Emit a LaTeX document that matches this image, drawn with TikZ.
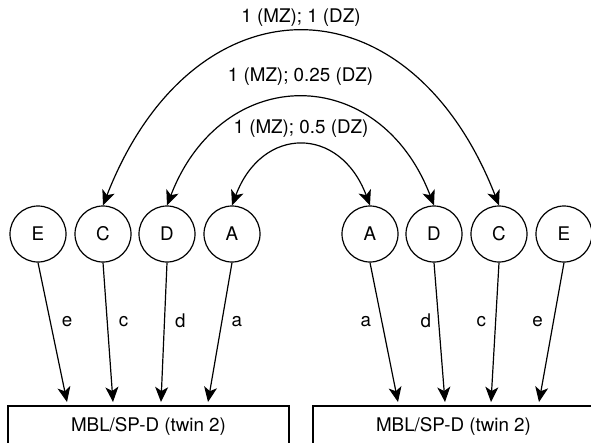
\documentclass[tikz,border=0pt]{standalone}
\usepackage{fontspec}
\setmainfont{TeX Gyre Heros}
\usetikzlibrary{arrows.meta}
\begin{document}
\begin{tikzpicture}[x=1pt,y=-1pt,
  every node/.style={font=\fontsize{18.8}{22}\selectfont},
  unit/.style={draw,circle,minimum size=56pt,inner sep=0pt,line width=1.2pt},
  twinbox/.style={draw,rectangle,minimum width=281pt,minimum height=40pt,inner sep=0pt,line width=1.2pt},
  tipA/.tip={Stealth[length=15pt,width=13pt,inset=4pt]},
  arr/.style={-tipA,line width=1.2pt},
  arrb/.style={tipA-tipA,line width=1.2pt},
  lbl/.style={inner sep=0pt}
]
\useasboundingbox (0,0) rectangle (591,442);
\clip (0,0) rectangle (591,442);
% circles
\node[unit] (lE) at (38,234) {E};
\node[unit] (lC) at (103,234) {C};
\node[unit] (lD) at (167,234) {D};
\node[unit] (lA) at (232,234) {A};
\node[unit] (rA) at (370,234) {A};
\node[unit] (rD) at (434,234) {D};
\node[unit] (rC) at (499,234) {C};
\node[unit] (rE) at (564,234) {E};
% boxes
\node[twinbox] (lbox) at (148.5,426) {MBL/SP-D (twin 2)};
\node[twinbox] (rbox) at (453.5,426) {MBL/SP-D (twin 2)};
% arrow ends
\coordinate (le) at (67,402);
\coordinate (lc) at (113,402);
\coordinate (ld) at (161,402);
\coordinate (la) at (208,402);
\coordinate (ra) at (398,402);
\coordinate (rd) at (445,402);
\coordinate (rc) at (491,402);
\coordinate (re) at (539,402);
% arrows down
\draw[arr] (lE.south) -- node[lbl,pos=0.42,right=11pt] (le-l) {e} (le);
\draw[arr] (lC.south) -- node[lbl,pos=0.42,right=11pt] (lc-l) {c} (lc);
\draw[arr] (lD.south) -- node[lbl,pos=0.42,right=10pt] (ld-l) {d} (ld);
\draw[arr] (lA.south) -- node[lbl,pos=0.42,right=9pt] (la-l) {a} (la);
\draw[arr] (rA.south) -- node[lbl,pos=0.42,left=10pt] (ra-l) {a} (ra);
\draw[arr] (rD.south) -- node[lbl,pos=0.42,left=7pt] (rd-l) {d} (rd);
\draw[arr] (rC.south) -- node[lbl,pos=0.42,left=9pt] (rc-l) {c} (rc);
\draw[arr] (rE.south) -- node[lbl,pos=0.42,left=10pt] (re-l) {e} (re);
% arcs
\draw[arrb] (lC.north) .. controls +(90,-231) and +(-90,-231) .. node[pos=0.5,yshift=14.5pt] (l1) {1 (MZ); 1 (DZ)} (rC.north);
\draw[arrb] (lD.north) .. controls +(55,-143) and +(-55,-143) .. node[pos=0.5,yshift=22pt] (l2) {1 (MZ); 0.25 (DZ)} (rD.north);
\draw[arrb] (lA.north) .. controls +(30,-80) and +(-30,-80) .. node[pos=0.5,yshift=17pt] (l3) {1 (MZ); 0.5 (DZ)} (rA.north);
\end{tikzpicture}
\end{document}
